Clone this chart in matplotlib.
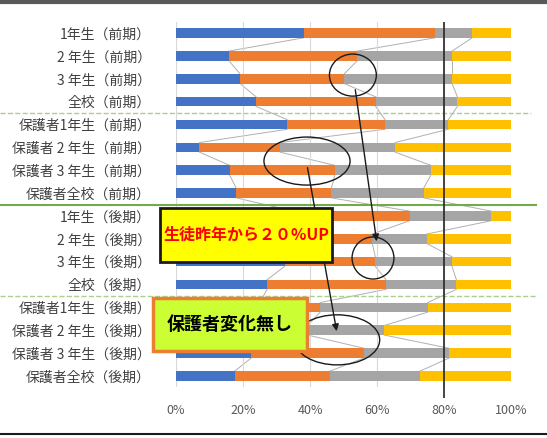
import matplotlib
matplotlib.use('Agg')
import matplotlib.pyplot as plt
import numpy as np
from matplotlib.patches import Rectangle, Ellipse
from matplotlib.lines import Line2D
from matplotlib.transforms import blended_transform_factory

plt.rcParams['font.family'] = ['Noto Sans CJK JP', 'DejaVu Sans']

# 行ラベル (上から順)
etiquetas = ['1年生（前期）', '2 年生（前期）', '3 年生（前期）', '全校（前期）',
             '保護者1年生（前期）', '保護者 2 年生（前期）', '保護者 3 年生（前期）', '保護者全校（前期）',
             '1年生（後期）', '2 年生（後期）', '3 年生（後期）', '全校（後期）',
             '保護者1年生（後期）', '保護者 2 年生（後期）', '保護者 3 年生（後期）', '保護者全校（後期）']

# 各項目の割合 (%)
azul = [38.1, 15.8, 19.1, 23.9, 33.2, 7.0, 16.0, 18.0, 35.0, 30.0, 32.4, 27.2, 25.0, 10.0, 22.5, 17.5]
naranja = [39.2, 38.3, 31.1, 35.7, 29.2, 24.1, 31.4, 28.4, 34.7, 28.6, 27.1, 35.5, 18.0, 29.3, 33.7, 28.4]
gris = [11.1, 28.3, 32.2, 24.4, 18.9, 34.3, 28.7, 27.5, 24.4, 16.3, 22.9, 21.0, 32.1, 22.9, 25.4, 26.9]
amarillo = [11.6, 17.6, 17.6, 16.0, 18.7, 34.6, 23.9, 26.1, 5.9, 25.1, 17.6, 16.3, 24.9, 37.8, 18.4, 27.2]

xticks = [0, 20, 40, 60, 80, 100]
xtick_labels = ['0%', '20%', '40%', '60%', '80%', '100%']

series = [azul, naranja, gris, amarillo]
colores = ['#4472c4', '#ed7d31', '#a5a5a5', '#ffc000']

fig = plt.figure(figsize=(5.47, 4.38), dpi=100)
ax = fig.add_axes([0.3218, 0.1155, 0.6124, 0.8352])

y = np.arange(len(etiquetas))
alto = 0.42
izq = np.zeros(len(etiquetas))
limites = []
for vals, col in zip(series, colores):
    ax.barh(y, vals, left=izq, height=alto, color=col, zorder=2)
    izq = izq + np.array(vals)
    limites.append(izq.copy())

# lineas de serie entre barras
for lim in limites[:3]:
    for i in range(len(y) - 1):
        ax.plot([lim[i], lim[i + 1]], [y[i] + alto / 2, y[i + 1] - alto / 2],
                color='#b0b0b0', lw=0.7, zorder=1)

ax.set_xlim(0, 100)
ax.set_ylim(len(etiquetas) - 0.5, -0.5)
ax.set_xticks(xticks)
ax.set_xticklabels(xtick_labels, fontsize=9, color='#595959')
ax.set_yticks(y)
ax.set_yticklabels(etiquetas, fontsize=10, color='#404040')
ax.tick_params(length=0)
ax.tick_params(axis='y', pad=18)
ax.tick_params(axis='x', pad=12)
ax.grid(axis='x', color='#d9d9d9', lw=0.8, zorder=0)
for s in ax.spines.values():
    s.set_visible(False)

# linea 80%
ax.vlines(80, -0.5, 15.97, color='#262626', lw=1.2, zorder=4, clip_on=False)

# separadores verdes
trans = blended_transform_factory(fig.transFigure, ax.transData)
ax.add_line(Line2D([0, 0.97], [3.5, 3.5], transform=trans, color='#a9d18e', lw=1, ls='--', clip_on=False))
ax.add_line(Line2D([0, 0.98], [7.5, 7.5], transform=trans, color='#70ad47', lw=1.5, clip_on=False))
ax.add_line(Line2D([0, 0.98], [11.5, 11.5], transform=trans, color='#a9d18e', lw=1, ls='--', clip_on=False))

# elipses
for cx, cy, w, h in [(52.8, 1.84, 14.0, 1.84), (39.1, 5.6, 25.7, 2.1),
                     (58.8, 9.84, 12.5, 1.84), (48.1, 13.42, 25.4, 2.19)]:
    ax.add_patch(Ellipse((cx, cy), w, h, fill=False, ec='#1a1a1a', lw=1, zorder=5, clip_on=False))

# flechas
ax.annotate('', xy=(60.0, 9.23), xytext=(53.4, 2.36),
            arrowprops=dict(arrowstyle='-|>', color='#1a1a1a', lw=1, mutation_scale=10), zorder=5)
ax.annotate('', xy=(48.1, 13.16), xytext=(39.1, 5.77),
            arrowprops=dict(arrowstyle='-|>', color='#1a1a1a', lw=1, mutation_scale=10), zorder=5)

# cuadros de texto
ax.add_patch(Rectangle((-4.8, 7.65), 51.4, 2.36, facecolor='#ffff00', edgecolor='#1a1a1a',
                       lw=2, zorder=8, clip_on=False))
ax.text(20.9, 8.83, '生徒昨年から２０%UP', ha='center', va='center', fontsize=11.5,
        fontweight='bold', color='#ff0000', zorder=9)
ax.add_patch(Rectangle((-6.9, 11.59), 46.0, 2.31, facecolor='#ccff33', edgecolor='#ed7d31',
                       lw=2.5, zorder=8, clip_on=False))
ax.text(16.1, 12.75, '保護者変化無し', ha='center', va='center', fontsize=13,
        fontweight='bold', color='#000000', zorder=9)

# marco
fig.add_artist(Line2D([0, 1], [0.995, 0.995], transform=fig.transFigure, color='#595959', lw=3))
fig.add_artist(Line2D([0, 1], [0.008, 0.008], transform=fig.transFigure, color='#1a1a1a', lw=1.5))

fig.savefig('out.png', dpi=100)
